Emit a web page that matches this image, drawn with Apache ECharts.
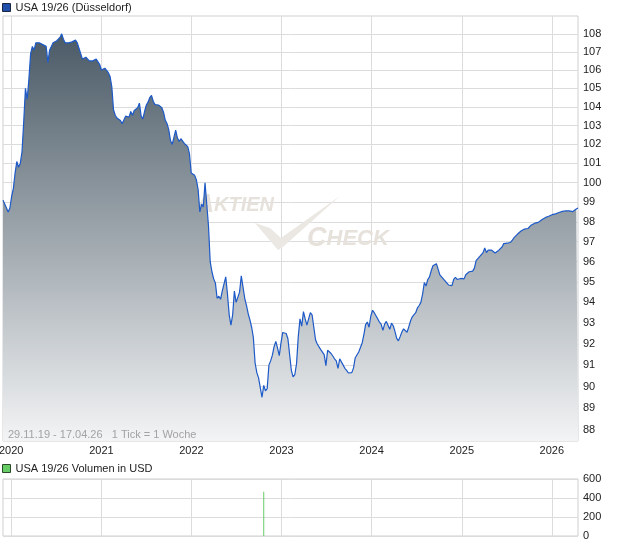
<!DOCTYPE html>
<html>
<head>
<meta charset="utf-8">
<script src="https://cdn.jsdelivr.net/npm/echarts@6/dist/echarts.min.js"></script>
<style>html,body{margin:0;padding:0;background:#fff}#c{width:620px;height:546px}</style>
</head>
<body>
<div id="c"></div>
<script>
// ---------- data ----------
const priceName = 'USA 19/26 (Düsseldorf)';
const volumeName = 'USA 19/26 Volumen in USD';
const periodNote = '29.11.19 - 17.04.26   1 Tick = 1 Woche';
const firstWeek = '2019-11-29';   // 1 Tick = 1 Woche
const lastWeek = '2026-04-17';
// weekly closing prices, one per week from firstWeek
const weeklyPrice = [
  99.1, 98.9, 98.7, 98.5, 98.7, 99.3, 99.7, 100.5, 101.1, 100.8,
  101.0, 101.6, 103.2, 105.0, 104.4, 105.5, 106.9, 107.3, 107.1, 107.5,
  107.5, 107.5, 107.45, 107.4, 107.35, 107.3, 106.4, 107.1, 107.3, 107.5,
  107.55, 107.6, 107.7, 107.8, 108.0, 107.7, 107.5, 107.6, 107.5, 107.6,
  107.55, 107.5, 107.65, 107.5, 107.2, 107.1, 106.6, 106.5, 106.7, 106.6,
  106.5, 106.6, 106.5, 106.6, 106.6, 106.5, 106.3, 106.0, 106.05, 106.1,
  106.05, 105.85, 105.65, 105.1, 103.85, 103.55, 103.4, 103.35, 103.27, 103.1,
  103.3, 103.5, 103.5, 103.45, 103.75, 103.55, 103.8, 103.9, 103.95, 104.2,
  103.5, 103.35, 103.75, 104.1, 104.25, 104.5, 104.62, 104.3, 104.12, 104.2,
  104.1, 104.1, 103.95, 103.7, 103.28, 103.1, 102.78, 102.2, 102.0, 102.1,
  102.75, 102.35, 102.15, 102.3, 102.3, 102.05, 102.15, 101.88, 101.5, 100.5,
  100.47, 100.38, 100.15, 99.65, 98.5, 98.9, 98.75, 100.0, 98.9, 97.8,
  96.0, 95.5, 95.15, 94.95, 94.2, 94.3, 94.15, 94.56, 94.9, 95.25,
  94.4, 93.4, 92.9, 93.4, 94.55, 94.0, 93.95, 94.5, 95.3, 94.75,
  94.2, 93.85, 93.45, 93.15, 92.8, 92.3, 91.1, 90.65, 90.4, 89.95,
  89.5, 90.05, 89.8, 89.9, 91.0, 91.2, 91.47, 91.87, 92.12, 91.8,
  91.45, 92.05, 92.55, 92.62, 92.5, 92.25, 91.5, 90.75, 90.45, 90.55,
  91.07, 92.35, 93.2, 92.85, 93.55, 93.2, 92.9, 93.2, 93.5, 93.4,
  92.8, 92.2, 92.0, 92.0, 91.73, 91.7, 91.5, 90.98, 91.7, 91.73,
  91.55, 91.43, 91.3, 91.2, 90.85, 91.3, 91.3, 91.0, 90.85, 90.75,
  90.63, 90.72, 90.65, 90.87, 91.35, 91.42, 91.62, 91.65, 92.05, 92.45,
  92.93, 93.05, 92.8, 93.33, 93.62, 93.5, 93.35, 93.27, 93.05, 92.95,
  92.65, 92.95, 93.08, 93.1, 92.7, 93.0, 92.87, 92.6, 92.27, 92.15,
  92.35, 92.57, 92.72, 92.68, 92.56, 92.82, 93.1, 93.3, 93.32, 93.5,
  93.73, 93.85, 94.0, 94.4, 94.97, 94.8, 95.12, 95.25, 95.55, 95.8,
  95.82, 95.9, 95.92, 95.35, 95.28, 95.15, 95.05, 94.95, 94.85, 94.77,
  94.82, 95.12, 95.23, 95.12, 95.15, 95.17, 95.25, 95.15, 95.35, 95.44,
  95.5, 95.45, 95.53, 95.68, 96.05, 96.15, 96.25, 96.33, 96.45, 96.68,
  96.45, 96.58, 96.6, 96.57, 96.52, 96.43, 96.5, 96.56, 96.62, 96.73,
  96.9, 96.88, 96.92, 96.95, 96.97, 97.08, 97.2, 97.28, 97.38, 97.48,
  97.53, 97.63, 97.63, 97.63, 97.66, 97.72, 97.84, 97.92, 97.93, 97.9,
  97.97, 98.04, 98.1, 98.16, 98.21, 98.25, 98.28, 98.32, 98.36, 98.39,
  98.4, 98.43, 98.47, 98.5, 98.53, 98.56, 98.56, 98.55, 98.55, 98.52,
  98.52, 98.57, 98.65, 98.7
];
const volumeDates = ['2022-10-21'];
const volumeValues = [465];
const yearTicks = ['2020-01-01', '2021-01-01', '2022-01-01', '2023-01-01', '2024-01-01', '2025-01-01', '2026-01-01'];
const priceTicks = [88, 89, 90, 91, 92, 93, 94, 95, 96, 97, 98, 99, 100, 101, 102, 103, 104, 105, 106, 107, 108];
const volumeTicks = [0, 200, 400, 600];

// ---------- build ----------
function ts(s) { const p = s.split('-').map(Number); return new Date(p[0], p[1] - 1, p[2]).getTime(); }
const f0 = firstWeek.split('-').map(Number);
const priceData = weeklyPrice.map((v, i) => [new Date(f0[0], f0[1] - 1, f0[2] + 7 * i).getTime(), v]);
const volumeData = volumeDates.map((d, i) => [ts(d), volumeValues[i]]);
const yearTs = yearTicks.map(ts);
const xMin = ts(firstWeek), xMax = ts(lastWeek);
const FONT = '"Liberation Sans", Arial, sans-serif';
const gridLine = { show: true, lineStyle: { color: '#dcdcdc', width: 1 } };

const chart = echarts.init(document.getElementById('c'), null, { renderer: 'canvas' });
chart.setOption({
  animation: false,
  textStyle: { fontFamily: FONT },
  legend: [
    { data: [{ name: priceName, icon: 'rect', itemStyle: { color: '#1f4fa8', borderColor: '#1a2540', borderWidth: 1 } }],
      left: 2, top: 2, itemWidth: 8, itemHeight: 8, padding: 0, selectedMode: false,
      textStyle: { fontSize: 11, color: '#222', fontFamily: FONT } },
    { data: [{ name: volumeName, icon: 'rect', itemStyle: { color: '#66cc66', borderColor: '#2a4a2a', borderWidth: 1 } }],
      left: 2, top: 463, itemWidth: 8, itemHeight: 8, padding: 0, selectedMode: false,
      textStyle: { fontSize: 11, color: '#222', fontFamily: FONT } }
  ],
  grid: [
    { left: 3, right: 42, top: 16, bottom: 105, show: true, borderColor: '#cfcfcf', borderWidth: 1,
      containLabel: false, outerBoundsMode: 'none' },
    { left: 3, right: 42, top: 479, height: 57, show: true, borderColor: '#cfcfcf', borderWidth: 1,
      containLabel: false, outerBoundsMode: 'none' }
  ],
  xAxis: [
    { type: 'value', gridIndex: 0, min: xMin, max: xMax,
      axisLine: { show: false }, axisTick: { show: false, customValues: yearTs },
      axisLabel: { customValues: yearTs, formatter: v => String(new Date(v).getFullYear()), color: '#222', fontSize: 11, margin: 4, fontFamily: FONT },
      splitLine: gridLine },
    { type: 'value', gridIndex: 1, min: xMin, max: xMax,
      axisLine: { show: false }, axisTick: { show: false, customValues: yearTs },
      axisLabel: { show: false }, splitLine: gridLine }
  ],
  yAxis: [
    { type: 'log', logBase: 10, gridIndex: 0, position: 'right', min: 87.5, max: 109,
      axisLine: { show: false }, axisTick: { show: false, customValues: priceTicks },
      axisLabel: { customValues: priceTicks, color: '#222', fontSize: 11, margin: 5, fontFamily: FONT },
      splitLine: gridLine },
    { type: 'value', gridIndex: 1, position: 'right', min: 0, max: 600, interval: 200,
      axisLine: { show: false }, axisTick: { show: false, customValues: volumeTicks },
      axisLabel: { customValues: volumeTicks, color: '#222', fontSize: 11, margin: 5, fontFamily: FONT },
      splitLine: gridLine }
  ],
  graphic: [
    { type: 'text', left: 196, top: 193, z: 1, silent: true,
      style: { text: '{a|A}{b|KTIEN}', fill: '#e6e1db',
        rich: { a: { fontSize: 25, fontWeight: 'bold', fontStyle: 'italic', fill: '#e6e1db', fontFamily: FONT },
                b: { fontSize: 20, fontWeight: 'bold', fontStyle: 'italic', fill: '#e6e1db', fontFamily: FONT } } } },
    { type: 'text', left: 307, top: 225, z: 1, silent: true,
      style: { text: '{a|C}{b|HECK}', fill: '#e6e1db',
        rich: { a: { fontSize: 27, fontWeight: 'bold', fontStyle: 'italic', fill: '#e6e1db', fontFamily: FONT },
                b: { fontSize: 22, fontWeight: 'bold', fontStyle: 'italic', fill: '#e6e1db', fontFamily: FONT } } } },
    { type: 'polygon', z: 1, silent: true,
      shape: { points: [[255, 223], [270, 228], [281, 238], [340, 196], [284, 246], [278, 250]] },
      style: { fill: '#ebe7e2' } },
    { type: 'text', left: 8, top: 429, z: 10, silent: true,
      style: { text: periodNote, fill: '#a3a3a3', fontSize: 11, fontFamily: FONT } }
  ],
  series: [
    { type: 'line', name: priceName, xAxisIndex: 0, yAxisIndex: 0, data: priceData, z: 2,
      symbol: 'none', showSymbol: false,
      lineStyle: { color: '#1d5ac8', width: 1.2 }, itemStyle: { color: '#1f4fa8' },
      areaStyle: { origin: 'start', opacity: 1,
        color: new echarts.graphic.LinearGradient(0, 0, 0, 1, [
          { offset: 0, color: '#4a5a66' }, { offset: 1, color: '#f3f4f5' }]) } },
    { type: 'bar', name: volumeName, xAxisIndex: 1, yAxisIndex: 1, data: volumeData,
      barWidth: 1, itemStyle: { color: '#66cc66' } }
  ]
});
</script>
</body>
</html>
